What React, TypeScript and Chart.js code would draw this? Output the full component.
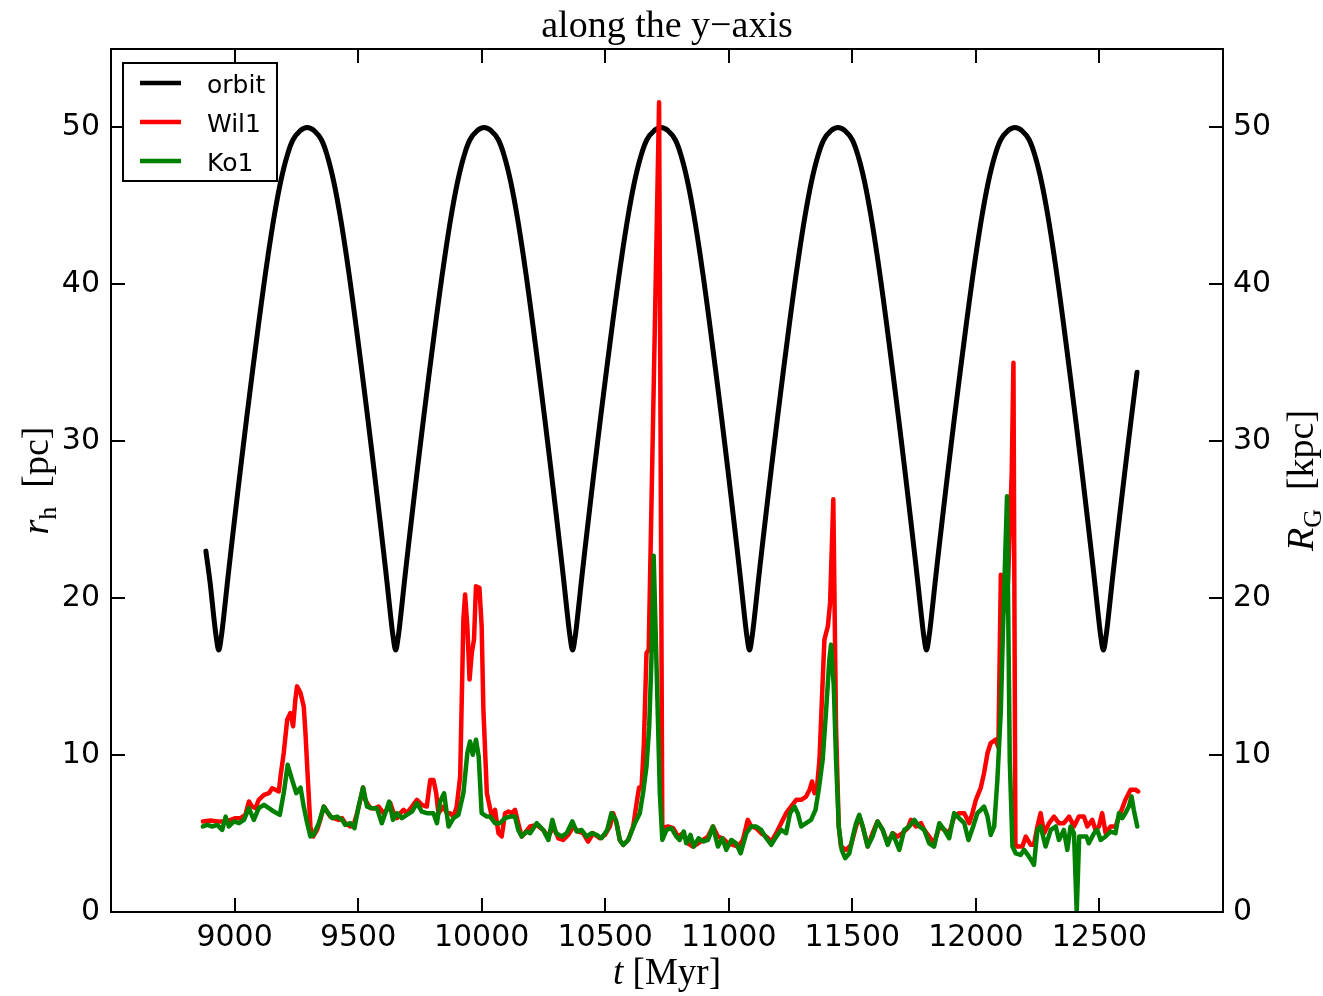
import React, { useEffect, useRef } from "react";
import { Chart, registerables } from "chart.js";

Chart.register(...registerables);

// ---------- data ----------
const xTicks = [9000, 9500, 10000, 10500, 11000, 11500, 12000, 12500];
const yTicks = [0, 10, 20, 30, 40, 50];

const orbitT = [
  8884, 8901, 8916, 8926, 8936, 8946, 8956, 8971, 8986, 9011, 9036, 9061, 9086, 9111, 9136, 9161, 9186, 9211, 9236, 9266, 9294,
  9322, 9352, 9377, 9402, 9427, 9452, 9477, 9502, 9527, 9552, 9577, 9602, 9617, 9632, 9642, 9652,
  9662, 9672, 9687, 9702, 9727, 9752, 9777, 9802, 9827, 9852, 9877, 9902, 9927, 9952, 9982, 10010,
  10038, 10068, 10093, 10118, 10143, 10168, 10193, 10218, 10243, 10268, 10293, 10318, 10333, 10348, 10358, 10368,
  10378, 10388, 10403, 10418, 10443, 10468, 10493, 10518, 10543, 10568, 10593, 10618, 10643, 10668, 10698, 10726,
  10754, 10784, 10809, 10834, 10859, 10884, 10909, 10934, 10959, 10984, 11009, 11034, 11049, 11064, 11074, 11084,
  11094, 11104, 11119, 11134, 11159, 11184, 11209, 11234, 11259, 11284, 11309, 11334, 11359, 11384, 11414, 11442,
  11470, 11500, 11525, 11550, 11575, 11600, 11625, 11650, 11675, 11700, 11725, 11750, 11765, 11780, 11790, 11800,
  11810, 11820, 11835, 11850, 11875, 11900, 11925, 11950, 11975, 12000, 12025, 12050, 12075, 12100, 12130, 12158,
  12186, 12216, 12241, 12266, 12291, 12316, 12341, 12366, 12391, 12416, 12441, 12466, 12481, 12496, 12506, 12516,
  12526, 12536, 12551, 12566, 12591, 12616, 12641, 12652,
];
const orbitR = [
  23.0, 21.0, 18.8, 17.5, 16.7, 17.5, 18.8, 21.0, 23.1, 26.5, 29.8, 33.0, 36.1, 39.1, 41.9, 44.4, 46.5, 48.1, 49.2, 49.8, 50.0,
  49.8, 49.2, 48.1, 46.5, 44.4, 41.9, 39.1, 36.1, 33.0, 29.8, 26.5, 23.1, 21.0, 18.8, 17.5, 16.7,
  17.5, 18.8, 21.0, 23.1, 26.5, 29.8, 33.0, 36.1, 39.1, 41.9, 44.4, 46.5, 48.1, 49.2, 49.8, 50.0,
  49.8, 49.2, 48.1, 46.5, 44.4, 41.9, 39.1, 36.1, 33.0, 29.8, 26.5, 23.1, 21.0, 18.8, 17.5, 16.7,
  17.5, 18.8, 21.0, 23.1, 26.5, 29.8, 33.0, 36.1, 39.1, 41.9, 44.4, 46.5, 48.1, 49.2, 49.8, 50.0,
  49.8, 49.2, 48.1, 46.5, 44.4, 41.9, 39.1, 36.1, 33.0, 29.8, 26.5, 23.1, 21.0, 18.8, 17.5, 16.7,
  17.5, 18.8, 21.0, 23.1, 26.5, 29.8, 33.0, 36.1, 39.1, 41.9, 44.4, 46.5, 48.1, 49.2, 49.8, 50.0,
  49.8, 49.2, 48.1, 46.5, 44.4, 41.9, 39.1, 36.1, 33.0, 29.8, 26.5, 23.1, 21.0, 18.8, 17.5, 16.7,
  17.5, 18.8, 21.0, 23.1, 26.5, 29.8, 33.0, 36.1, 39.1, 41.9, 44.4, 46.5, 48.1, 49.2, 49.8, 50.0,
  49.8, 49.2, 48.1, 46.5, 44.4, 41.9, 39.1, 36.1, 33.0, 29.8, 26.5, 23.1, 21.0, 18.8, 17.5, 16.7,
  17.5, 18.8, 21.0, 23.1, 26.5, 29.8, 33.0, 34.4,
];

const wilT = [
  8872, 8903, 8930, 8957, 8984, 9004, 9024, 9044, 9058, 9071, 9085, 9098, 9119, 9139, 9152, 9166, 9179, 9186, 9199, 9213,
  9226, 9237, 9246, 9253, 9267, 9280, 9287, 9296, 9307, 9318, 9334, 9347, 9361, 9374, 9388, 9401, 9421, 9435, 9448, 9469,
  9482, 9496, 9509, 9520, 9529, 9549, 9570, 9583, 9603, 9617, 9630, 9644, 9657, 9671, 9684, 9697, 9718, 9738, 9758, 9778,
  9792, 9805, 9816, 9825, 9846, 9859, 9872, 9886, 9899, 9913, 9920, 9926, 9933, 9942, 9951, 9960, 9969, 9977, 9991, 10000,
  10007, 10021, 10041, 10054, 10068, 10081, 10095, 10108, 10122, 10135, 10148, 10162, 10175, 10196, 10223, 10249, 10270, 10290, 10310, 10330,
  10350, 10371, 10391, 10411, 10431, 10451, 10478, 10499, 10519, 10532, 10546, 10559, 10573, 10593, 10613, 10629, 10637, 10647, 10656, 10667,
  10676, 10718, 10731, 10754, 10775, 10795, 10815, 10835, 10855, 10876, 10896, 10916, 10936, 10956, 10976, 10997, 11017, 11037, 11057, 11077,
  11091, 11111, 11131, 11152, 11172, 11192, 11212, 11232, 11252, 11273, 11293, 11313, 11327, 11337, 11347, 11357, 11367, 11378, 11387, 11401,
  11410, 11423, 11434, 11445, 11454, 11475, 11495, 11515, 11528, 11542, 11562, 11582, 11602, 11623, 11643, 11663, 11683, 11703, 11724, 11737,
  11757, 11778, 11791, 11811, 11831, 11852, 11872, 11892, 11912, 11932, 11953, 11973, 11986, 12000, 12020, 12033, 12047, 12060, 12080, 12091,
  12101, 12110, 12130, 12145, 12152, 12160, 12168, 12188, 12202, 12222, 12235, 12249, 12262, 12276, 12296, 12316, 12336, 12356, 12377, 12397,
  12417, 12437, 12451, 12471, 12484, 12498, 12511, 12525, 12545, 12565, 12585, 12605, 12626, 12646, 12657,
];
const wilR = [
  5.77, 5.83, 5.77, 5.77, 5.87, 5.98, 5.98, 6.19, 7.04, 6.72, 6.62, 7.15, 7.47, 7.57, 7.89, 7.79, 7.68, 8.64, 10.13, 12.25,
  12.68, 11.83, 13.53, 14.38, 13.96, 13.1, 11.4, 8.64, 5.45, 4.81, 5.23, 5.87, 6.72, 6.4, 6.08, 5.98, 5.87, 5.98, 5.66, 5.45,
  5.55, 6.3, 7.15, 7.93, 7.15, 6.62, 6.62, 6.72, 6.3, 6.51, 6.94, 6.3, 5.98, 6.3, 6.51, 6.3, 6.72, 7.15, 6.83, 6.72,
  8.42, 8.42, 7.57, 6.3, 6.72, 6.3, 6.3, 6.08, 6.72, 8.64, 13.96, 18.63, 20.23, 18.21, 14.81, 16.51, 17.36, 20.76, 20.66, 18.21,
  12.89, 7.57, 6.08, 6.51, 5.02, 4.81, 6.3, 6.4, 6.3, 6.51, 5.66, 4.81, 5.02, 5.45, 5.55, 5.23, 4.81, 5.45, 4.7, 4.59,
  4.91, 5.45, 5.13, 5.02, 4.49, 5.02, 4.7, 4.91, 5.45, 6.3, 5.66, 4.59, 4.28, 4.59, 5.45, 7.15, 7.93, 7.93, 10.55, 16.51,
  16.72, 51.6, 5.34, 5.45, 5.34, 4.81, 5.02, 4.38, 4.17, 4.38, 4.59, 4.81, 5.45, 4.81, 4.7, 4.38, 4.28, 4.17, 4.59, 5.87,
  5.45, 5.34, 5.02, 4.81, 4.49, 5.02, 5.66, 6.3, 6.72, 7.15, 7.15, 7.36, 7.79, 8.32, 7.57, 7.93, 9.7, 13.96, 17.36, 18.21,
  19.7, 26.3, 11.83, 5.45, 4.17, 3.96, 4.28, 5.45, 6.08, 5.45, 4.17, 5.02, 5.77, 5.23, 4.38, 5.02, 4.81, 5.02, 5.34, 5.87,
  5.45, 5.66, 5.23, 4.81, 4.38, 5.45, 5.23, 5.02, 6.08, 6.3, 6.3, 5.66, 6.3, 7.15, 7.93, 8.85, 10.13, 10.77, 10.98, 10.5,
  21.5, 19.0, 21.0, 28.0, 35.0, 4.3, 4.17, 4.17, 4.81, 4.28, 4.28, 5.45, 6.3, 5.02, 5.66, 6.08, 5.66, 5.66, 6.08, 5.45,
  6.08, 6.08, 5.45, 5.87, 5.23, 5.45, 6.3, 5.02, 5.45, 5.45, 6.3, 7.15, 7.79, 7.79, 7.68,
];

const koT = [
  8872, 8890, 8910, 8930, 8950, 8964, 8977, 8997, 9018, 9038, 9058, 9078, 9098, 9119, 9139, 9159, 9183, 9199, 9215, 9233,
  9250, 9267, 9280, 9294, 9307, 9320, 9341, 9361, 9374, 9395, 9415, 9435, 9448, 9469, 9485, 9502, 9520, 9536, 9556, 9576,
  9596, 9610, 9626, 9641, 9657, 9677, 9697, 9718, 9738, 9758, 9778, 9805, 9819, 9832, 9848, 9866, 9886, 9906, 9926, 9942,
  9953, 9964, 9977, 9988, 10000, 10021, 10034, 10054, 10074, 10095, 10115, 10135, 10148, 10162, 10182, 10196, 10223, 10249, 10270, 10286,
  10301, 10324, 10344, 10367, 10384, 10404, 10425, 10445, 10465, 10485, 10508, 10525, 10543, 10559, 10573, 10593, 10620, 10640, 10653, 10667,
  10678, 10687, 10696, 10707, 10721, 10731, 10748, 10768, 10788, 10801, 10818, 10828, 10845, 10858, 10878, 10896, 10916, 10936, 10956, 10974,
  10990, 11010, 11030, 11048, 11071, 11091, 11111, 11131, 11152, 11172, 11192, 11212, 11232, 11248, 11266, 11279, 11293, 11313, 11333, 11351,
  11364, 11380, 11394, 11407, 11414, 11425, 11434, 11445, 11457, 11471, 11488, 11502, 11515, 11528, 11542, 11562, 11582, 11602, 11623, 11643,
  11663, 11690, 11710, 11730, 11751, 11771, 11791, 11811, 11831, 11852, 11872, 11892, 11912, 11932, 11953, 11970, 11989, 12006, 12020, 12033,
  12047, 12060, 12074, 12087, 12101, 12110, 12126, 12137, 12148, 12161, 12181, 12195, 12215, 12235, 12249, 12262, 12282, 12303, 12323, 12336,
  12356, 12370, 12383, 12397, 12408, 12418, 12447, 12457, 12478, 12491, 12505, 12525, 12545, 12565, 12579, 12592, 12605, 12619, 12630, 12639,
  12653,
];
const koR = [
  5.45, 5.55, 5.45, 5.55, 5.23, 6.08, 5.45, 5.77, 5.66, 5.87, 6.62, 5.87, 6.62, 6.83, 6.62, 6.4, 6.19, 7.57, 9.38, 8.42,
  7.57, 7.93, 6.72, 5.66, 4.81, 4.91, 5.66, 6.72, 6.4, 5.98, 6.08, 5.87, 5.55, 5.66, 5.34, 6.72, 7.93, 6.72, 6.62, 6.62,
  5.66, 6.3, 7.04, 5.87, 6.3, 5.98, 6.19, 6.4, 6.94, 6.4, 6.3, 6.3, 5.66, 7.04, 7.57, 5.45, 5.98, 6.19, 7.57, 10.13,
  10.87, 10.02, 10.98, 9.91, 6.3, 6.08, 6.08, 5.66, 5.66, 5.98, 6.08, 6.08, 5.23, 4.81, 5.13, 5.02, 5.66, 5.23, 4.59, 5.87,
  5.02, 4.81, 5.02, 5.77, 5.13, 5.23, 4.81, 5.02, 4.91, 4.7, 5.23, 6.3, 5.87, 4.59, 4.28, 4.59, 5.66, 6.3, 7.57, 9.27,
  11.83, 16.08, 22.7, 16.08, 7.57, 4.59, 5.23, 5.34, 4.81, 4.59, 5.13, 4.38, 4.91, 4.17, 4.7, 4.49, 4.59, 5.45, 4.17, 4.7,
  3.96, 4.59, 4.38, 3.74, 5.02, 5.45, 5.45, 5.23, 4.7, 4.28, 4.81, 5.23, 5.02, 6.3, 6.72, 6.3, 5.45, 5.66, 5.87, 6.51,
  7.79, 9.7, 12.89, 16.08, 17.04, 14.38, 9.7, 5.45, 3.96, 3.43, 3.74, 4.81, 5.66, 6.19, 5.45, 4.17, 4.81, 5.77, 5.23, 4.28,
  5.02, 3.96, 5.23, 5.45, 5.87, 5.45, 5.23, 4.38, 4.17, 5.66, 5.23, 4.7, 6.3, 5.98, 5.66, 4.59, 5.45, 6.3, 6.51, 6.72,
  6.08, 4.91, 5.45, 8.42, 12.89, 18.21, 26.5, 9.7, 4.17, 3.74, 3.64, 3.96, 3.53, 3.0, 5.23, 5.45, 4.17, 5.23, 5.45, 4.59,
  5.23, 3.96, 5.45, 5.02, 0.0, 4.81, 4.81, 4.38, 5.02, 5.23, 4.59, 4.81, 5.13, 5.02, 6.3, 5.98, 6.3, 6.72, 7.36, 6.51,
  5.45,
];

const legendLabels = ["orbit", "Wil1", "Ko1"];
const legendColors = ["#000000", "#ff0000", "#008000"];

// ---------- helpers ----------
type Seg = { t: string; font: string; dy?: number };

function drawSegs(ctx: CanvasRenderingContext2D, segs: Seg[], cx: number, cy: number, rot = 0) {
  ctx.save();
  ctx.translate(cx, cy);
  if (rot) ctx.rotate(rot);
  let w = 0;
  for (const s of segs) {
    ctx.font = s.font;
    w += ctx.measureText(s.t).width;
  }
  let x = -w / 2;
  ctx.textAlign = "left";
  ctx.textBaseline = "alphabetic";
  ctx.fillStyle = "#000";
  for (const s of segs) {
    ctx.font = s.font;
    ctx.fillText(s.t, x, s.dy || 0);
    x += ctx.measureText(s.t).width;
  }
  ctx.restore();
}

const SERIF = '"Liberation Serif", "DejaVu Serif", serif';
const SANS = '"DejaVu Sans", sans-serif';

const decorPlugin = {
  id: "decor",
  afterDraw(chart: any) {
    const { ctx, chartArea: a, scales } = chart;
    ctx.save();
    // frame
    ctx.strokeStyle = "#000";
    ctx.lineWidth = 2;
    ctx.strokeRect(a.left, a.top, a.right - a.left, a.bottom - a.top);
    // inward ticks
    const TL = 14;
    ctx.beginPath();
    for (const v of xTicks) {
      const px = Math.round(scales.x.getPixelForValue(v));
      ctx.moveTo(px, a.bottom);
      ctx.lineTo(px, a.bottom - TL);
      ctx.moveTo(px, a.top);
      ctx.lineTo(px, a.top + TL);
    }
    for (const v of yTicks) {
      const py = Math.round(scales.y.getPixelForValue(v));
      ctx.moveTo(a.left, py);
      ctx.lineTo(a.left + TL, py);
      const py2 = Math.round(scales.y2.getPixelForValue(v));
      ctx.moveTo(a.right, py2);
      ctx.lineTo(a.right - TL, py2);
    }
    ctx.stroke();

    // title
    drawSegs(ctx, [{ t: "along the y\u2212axis", font: `38px ${SERIF}` }], (a.left + a.right) / 2, 37);
    // x label
    drawSegs(
      ctx,
      [
        { t: "t", font: `italic 37px ${SERIF}` },
        { t: " [Myr]", font: `37px ${SERIF}` },
      ],
      (a.left + a.right) / 2,
      984
    );
    // left y label
    drawSegs(
      ctx,
      [
        { t: "r", font: `italic 38px ${SERIF}` },
        { t: "h", font: `26px ${SERIF}`, dy: 8 },
        { t: "  [pc]", font: `38px ${SERIF}` },
      ],
      48,
      (a.top + a.bottom) / 2,
      -Math.PI / 2
    );
    // right y label
    drawSegs(
      ctx,
      [
        { t: "R", font: `italic 38px ${SERIF}` },
        { t: "G", font: `26px ${SERIF}`, dy: 8 },
        { t: "  [kpc]", font: `38px ${SERIF}` },
      ],
      1313,
      (a.top + a.bottom) / 2,
      -Math.PI / 2
    );

    // legend
    const bx = 123, by = 63, bw = 154, bh = 118;
    ctx.fillStyle = "#fff";
    ctx.fillRect(bx, by, bw, bh);
    ctx.strokeStyle = "#000";
    ctx.lineWidth = 2;
    ctx.strokeRect(bx, by, bw, bh);
    const rows = [83, 122, 161];
    ctx.font = `25px ${SANS}`;
    ctx.textAlign = "left";
    ctx.textBaseline = "alphabetic";
    rows.forEach((ry, i) => {
      ctx.strokeStyle = legendColors[i];
      ctx.lineWidth = 4.5;
      ctx.beginPath();
      ctx.moveTo(140, ry);
      ctx.lineTo(181, ry);
      ctx.stroke();
      ctx.fillStyle = "#000";
      ctx.fillText(legendLabels[i], 207, ry + 10);
    });
    ctx.restore();
  },
};

const toPts = (ts: number[], vs: number[]) => ts.map((t, i) => ({ x: t, y: vs[i] }));

export default function App() {
  const ref = useRef<HTMLCanvasElement | null>(null);

  useEffect(() => {
    if (!ref.current) return;
    const tickFont = { family: SANS, size: 30 };
    const chart = new Chart(ref.current, {
      type: "line",
      data: {
        datasets: [
          {
            label: legendLabels[0],
            data: toPts(orbitT, orbitR),
            borderColor: legendColors[0],
            borderWidth: 5,
            pointRadius: 0,
            tension: 0.35,
            yAxisID: "y2",
            order: 3,
          },
          {
            label: legendLabels[1],
            data: toPts(wilT, wilR),
            borderColor: legendColors[1],
            borderWidth: 4.5,
            pointRadius: 0,
            tension: 0,
            yAxisID: "y",
            order: 2,
          },
          {
            label: legendLabels[2],
            data: toPts(koT, koR),
            borderColor: legendColors[2],
            borderWidth: 4.5,
            pointRadius: 0,
            tension: 0,
            yAxisID: "y",
            order: 1,
          },
        ],
      } as any,
      options: {
        animation: false,
        responsive: false,
        devicePixelRatio: 1,
        parsing: false as any,
        normalized: true,
        layout: { padding: { top: 49, left: 0, right: 0, bottom: 0 }, autoPadding: false } as any,
        plugins: {
          legend: { display: false },
          tooltip: { enabled: false },
          title: { display: false },
        },
        elements: { line: { borderJoinStyle: "round", borderCapStyle: "round" } as any },
        scales: {
          x: {
            type: "linear",
            position: "bottom",
            min: 8500,
            max: 13000,
            grid: { display: false },
            border: { display: false },
            ticks: { font: tickFont, color: "#000", padding: 0, maxRotation: 0, callback: (v: any) => String(v) },
            afterBuildTicks: (s: any) => {
              s.ticks = xTicks.map((v) => ({ value: v }));
            },
            afterFit: (s: any) => {
              s.height = 84;
            },
          },
          y: {
            type: "linear",
            position: "left",
            min: 0,
            max: 55,
            grid: { display: false },
            border: { display: false },
            ticks: { font: tickFont, color: "#000", padding: 3, callback: (v: any) => String(v) },
            afterBuildTicks: (s: any) => {
              s.ticks = yTicks.map((v) => ({ value: v }));
            },
            afterFit: (s: any) => {
              s.width = 111;
            },
          },
          y2: {
            type: "linear",
            position: "right",
            min: 0,
            max: 55,
            grid: { display: false },
            border: { display: false },
            ticks: { font: tickFont, color: "#000", padding: 2, callback: (v: any) => String(v) },
            afterBuildTicks: (s: any) => {
              s.ticks = yTicks.map((v) => ({ value: v }));
            },
            afterFit: (s: any) => {
              s.width = 100;
            },
          },
        },
      } as any,
      plugins: [decorPlugin],
    });
    return () => chart.destroy();
  }, []);

  return (
    <div style={{ position: "absolute", left: 0, top: 0, width: 1323, height: 996, background: "#fff" }}>
      <canvas ref={ref} width={1323} height={996} style={{ width: 1323, height: 996, display: "block" }} />
    </div>
  );
}
